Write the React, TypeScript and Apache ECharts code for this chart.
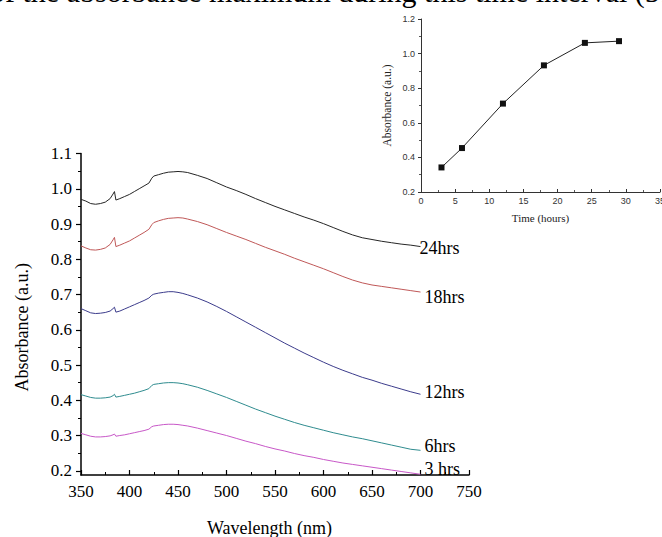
import React, { useEffect, useRef } from 'react';
import * as echarts from 'echarts';

const topText = 'of the absorbance maximum during this time interval (51';

const wavelengths = [350, 355, 360, 365, 370, 375, 380, 383, 384.5, 386, 390, 395, 400, 405, 410, 415, 420, 423, 425, 430, 435, 440, 445, 450, 455, 460, 470, 480, 490, 500, 510, 520, 530, 540, 550, 560, 570, 580, 590, 600, 610, 620, 630, 640, 650, 660, 670, 680, 690, 700];

const abs24h = [0.970, 0.965, 0.958, 0.956, 0.958, 0.962, 0.972, 0.985, 0.992, 0.968, 0.972, 0.978, 0.984, 0.992, 1.000, 1.008, 1.016, 1.030, 1.036, 1.040, 1.044, 1.047, 1.048, 1.049, 1.048, 1.046, 1.038, 1.029, 1.017, 1.005, 0.995, 0.984, 0.972, 0.961, 0.950, 0.940, 0.930, 0.920, 0.911, 0.901, 0.890, 0.879, 0.869, 0.861, 0.856, 0.851, 0.847, 0.843, 0.840, 0.836];
const abs18h = [0.838, 0.832, 0.827, 0.826, 0.828, 0.832, 0.842, 0.855, 0.862, 0.836, 0.840, 0.846, 0.852, 0.860, 0.868, 0.876, 0.885, 0.898, 0.904, 0.909, 0.913, 0.916, 0.917, 0.918, 0.917, 0.914, 0.907, 0.898, 0.887, 0.876, 0.866, 0.856, 0.845, 0.834, 0.824, 0.814, 0.803, 0.793, 0.783, 0.773, 0.762, 0.751, 0.741, 0.733, 0.727, 0.723, 0.719, 0.715, 0.711, 0.707];
const abs12h = [0.660, 0.654, 0.648, 0.646, 0.647, 0.649, 0.653, 0.660, 0.664, 0.650, 0.653, 0.659, 0.665, 0.671, 0.677, 0.683, 0.690, 0.698, 0.701, 0.704, 0.706, 0.708, 0.708, 0.706, 0.703, 0.699, 0.690, 0.679, 0.666, 0.652, 0.637, 0.622, 0.607, 0.592, 0.577, 0.562, 0.548, 0.534, 0.521, 0.508, 0.496, 0.485, 0.475, 0.465, 0.457, 0.448, 0.440, 0.432, 0.424, 0.417];
const abs6h = [0.416, 0.412, 0.408, 0.406, 0.406, 0.407, 0.409, 0.413, 0.417, 0.409, 0.411, 0.414, 0.417, 0.420, 0.424, 0.428, 0.433, 0.442, 0.445, 0.447, 0.449, 0.450, 0.450, 0.449, 0.447, 0.444, 0.437, 0.428, 0.418, 0.408, 0.397, 0.386, 0.375, 0.365, 0.355, 0.346, 0.337, 0.329, 0.322, 0.315, 0.308, 0.302, 0.296, 0.291, 0.285, 0.279, 0.273, 0.267, 0.261, 0.258];
const abs3h = [0.306, 0.302, 0.298, 0.296, 0.296, 0.297, 0.299, 0.302, 0.304, 0.298, 0.300, 0.302, 0.305, 0.308, 0.311, 0.314, 0.318, 0.325, 0.327, 0.329, 0.331, 0.332, 0.332, 0.331, 0.329, 0.327, 0.321, 0.314, 0.307, 0.300, 0.292, 0.284, 0.277, 0.269, 0.262, 0.256, 0.249, 0.243, 0.238, 0.232, 0.227, 0.222, 0.218, 0.214, 0.210, 0.206, 0.202, 0.198, 0.194, 0.190];

const seriesNames = ['24hrs', '18hrs', '12hrs', '6hrs', '3 hrs'];
const seriesValues = [abs24h, abs18h, abs12h, abs6h, abs3h];
const seriesColors = ['#262626', '#c05858', '#3c3c8c', '#2f8c8f', '#c858c8'];
const labelOffsets: [number, number][] = [[-1, 1.5], [4, 5], [4, -2], [4, -4], [4, -5]];

const yMajorTicks = [0.2, 0.3, 0.4, 0.5, 0.6, 0.7, 0.8, 0.9, 1.0, 1.1];
const yMinorTicks = [0.25, 0.35, 0.45, 0.55, 0.65, 0.75, 0.85, 0.95, 1.05];

const insetHours = [3, 6, 12, 18, 24, 29];
const insetAbs = [0.342, 0.454, 0.711, 0.932, 1.062, 1.072];

const SERIF = '"Liberation Serif", "Times New Roman", serif';
const SANS = '"Liberation Sans", Arial, sans-serif';

export default function App() {
  const ref = useRef<HTMLDivElement>(null);
  useEffect(() => {
    const chart = echarts.init(ref.current as HTMLDivElement, null, { renderer: 'svg' });
    const mainSeries = seriesNames.map((name, k) => ({
      name,
      type: 'line',
      xAxisIndex: 0,
      yAxisIndex: 0,
      data: wavelengths.map((w, i) => [w, seriesValues[k][i]]),
      symbol: 'none',
      showSymbol: false,
      lineStyle: { color: seriesColors[k], width: 1 },
      itemStyle: { color: seriesColors[k] },
      clip: false,
      endLabel: {
        show: true,
        formatter: '{a}',
        color: '#000',
        fontFamily: SERIF,
        fontSize: 18,
        distance: 0,
        offset: labelOffsets[k],
      },
    }));
    const option = {
      animation: false,
      backgroundColor: '#ffffff',
      graphic: [
        {
          type: 'text',
          x: -10,
          y: -8.5,
          style: {
            text: topText,
            font: '30px ' + SERIF,
            fill: '#000',
            verticalAlign: 'middle',
          },
        },
      ],
      grid: [
        { left: 81, top: 153.5, right: 193, bottom: 62, containLabel: false, outerBoundsMode: 'none' },
        { left: 421, top: 19, right: 2, bottom: 345, containLabel: false, outerBoundsMode: 'none' },
      ],
      xAxis: [
        {
          gridIndex: 0,
          type: 'value',
          min: 350,
          max: 750,
          interval: 50,
          name: 'Wavelength (nm)',
          nameLocation: 'middle',
          nameGap: 44,
          nameTextStyle: { fontFamily: SERIF, fontSize: 18, color: '#000', padding: [0, 11, 0, 0] },
          axisLine: { show: true, lineStyle: { color: '#000', width: 1.5 } },
          axisTick: { show: true, inside: true, length: 5, lineStyle: { color: '#000', width: 1.2 } },
          minorTick: { show: true, splitNumber: 2, length: 3, lineStyle: { color: '#000', width: 1 } },
          splitLine: { show: false },
          axisLabel: { fontFamily: SERIF, fontSize: 17, color: '#000', margin: 8 },
        },
        {
          gridIndex: 1,
          type: 'value',
          min: 0,
          max: 35,
          interval: 5,
          name: 'Time (hours)',
          nameLocation: 'middle',
          nameGap: 20,
          nameTextStyle: { fontFamily: SERIF, fontSize: 11, color: '#222' },
          axisLine: { show: true, lineStyle: { color: '#333', width: 1 } },
          axisTick: { show: true, inside: true, length: 3, lineStyle: { color: '#333' } },
          minorTick: { show: true, splitNumber: 2, length: 2, lineStyle: { color: '#555' } },
          splitLine: { show: false },
          axisLabel: { fontFamily: SANS, fontSize: 9, color: '#333', margin: 4 },
        },
      ],
      yAxis: [
        {
          gridIndex: 0,
          type: 'value',
          position: 'left',
          min: 0.188,
          max: 1.1,
          name: 'Absorbance (a.u.)',
          nameLocation: 'middle',
          nameGap: 50,
          nameTextStyle: { fontFamily: SERIF, fontSize: 18, color: '#000', padding: [0, 26, 0, 0] },
          axisLine: { show: true, lineStyle: { color: '#000', width: 1.5 } },
          axisTick: { show: true, inside: false, length: 5, customValues: yMajorTicks, lineStyle: { color: '#000', width: 1.2 } },
          minorTick: { show: false },
          splitLine: { show: false },
          axisLabel: {
            fontFamily: SERIF,
            fontSize: 17,
            color: '#000',
            margin: 9,
            customValues: yMajorTicks,
            formatter: (v: number) => v.toFixed(1),
          },
        },
        {
          gridIndex: 1,
          type: 'value',
          min: 0.2,
          max: 1.2,
          interval: 0.2,
          name: 'Absorbance (a.u.)',
          nameLocation: 'middle',
          nameGap: 28,
          nameTextStyle: { fontFamily: SERIF, fontSize: 11.5, color: '#222' },
          axisLine: { show: true, lineStyle: { color: '#333', width: 1 } },
          axisTick: { show: true, inside: false, length: 3, lineStyle: { color: '#333' } },
          minorTick: { show: true, splitNumber: 2, length: 2, lineStyle: { color: '#555' } },
          splitLine: { show: false },
          axisLabel: {
            fontFamily: SANS,
            fontSize: 9,
            color: '#333',
            margin: 6,
            formatter: (v: number) => v.toFixed(1),
          },
        },
        {
          gridIndex: 0,
          type: 'value',
          position: 'left',
          offset: 0,
          min: 0.188,
          max: 1.1,
          axisLine: { show: false },
          axisTick: { show: true, inside: false, length: 3, customValues: yMinorTicks, lineStyle: { color: '#000', width: 1 } },
          axisLabel: { show: false },
          splitLine: { show: false },
        },
      ],
      series: [
        ...mainSeries,
        {
          name: 'inset',
          type: 'line',
          xAxisIndex: 1,
          yAxisIndex: 1,
          data: insetHours.map((h, i) => [h, insetAbs[i]]),
          symbol: 'rect',
          symbolSize: 6,
          lineStyle: { color: '#222', width: 1 },
          itemStyle: { color: '#111' },
        },
      ],
    };
    chart.setOption(option as any);
    return () => chart.dispose();
  }, []);
  return (
    <div
      ref={ref}
      style={{ position: 'fixed', left: 0, top: 0, width: 662, height: 537, background: '#fff' }}
    />
  );
}
